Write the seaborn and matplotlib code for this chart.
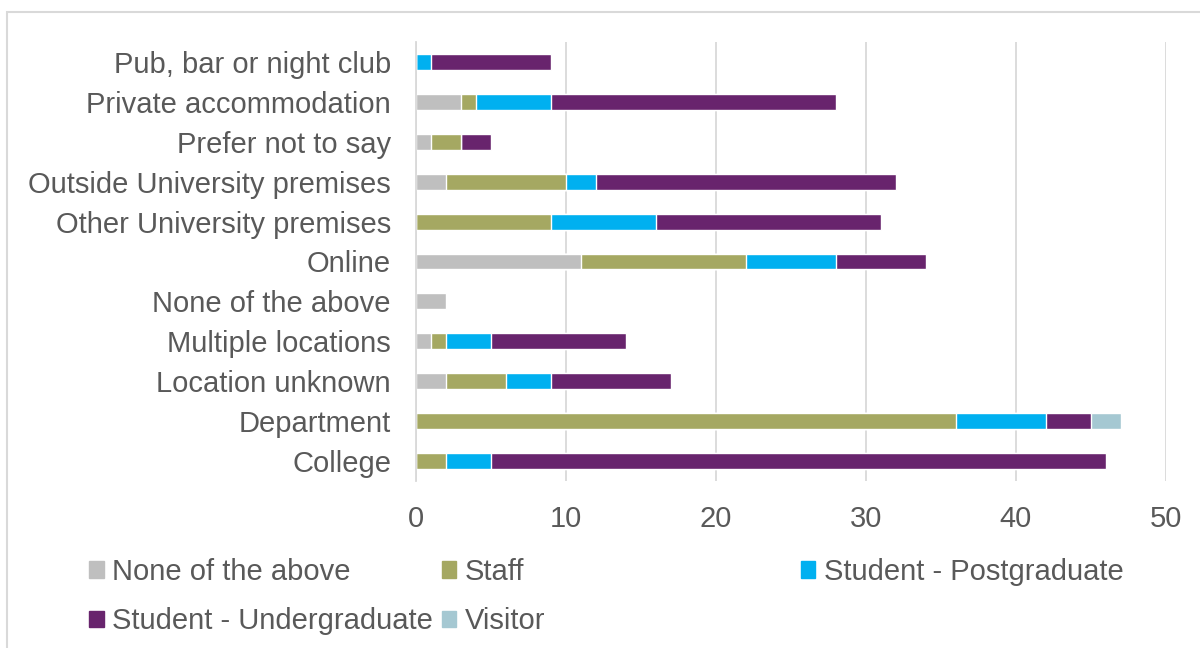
import numpy as np
import pandas as pd
import seaborn as sns
import matplotlib.pyplot as plt
from matplotlib.patches import Patch, Rectangle

# categories, top to bottom
locations = ["Pub, bar or night club", "Private accommodation", "Prefer not to say",
             "Outside University premises", "Other University premises", "Online",
             "None of the above", "Multiple locations", "Location unknown",
             "Department", "College"]

none_above = [0, 3, 1, 2, 0, 11, 2, 1, 2, 0, 0]
staff = [0, 1, 2, 8, 9, 11, 0, 1, 4, 36, 2]
postgrad = [1, 5, 0, 2, 7, 6, 0, 3, 3, 6, 3]
undergrad = [8, 19, 2, 20, 15, 6, 0, 9, 8, 3, 41]
visitor = [0, 0, 0, 0, 0, 0, 0, 0, 0, 2, 0]

series = ["None of the above", "Staff", "Student - Postgraduate",
          "Student - Undergraduate", "Visitor"]
colors = ["#BFBFBF", "#A5A862", "#00B0F0", "#68246D", "#A5C8D2"]

df = pd.DataFrame({"location": locations, series[0]: none_above, series[1]: staff,
                   series[2]: postgrad, series[3]: undergrad, series[4]: visitor})
cum = df[series].cumsum(axis=1)
cum["location"] = df["location"]

sns.set_style("white")
plt.rcParams["font.family"] = ["Liberation Sans", "DejaVu Sans"]
text_col = "#595959"
fs = 21

fig = plt.figure(figsize=(12, 6.48), dpi=100)
ax = fig.add_axes([416 / 1200, 1 - 481 / 648, 750 / 1200, 439 / 648])

# draw the cumulative totals from the last series back to the first
for name, col in reversed(list(zip(series, colors))):
    sns.barplot(data=cum, x=name, y="location", order=locations, color=col,
                width=0.4, saturation=1, ax=ax, orient="h")

ax.set_xlim(0, 50)
ax.set_ylim(10.5, -0.5)
ax.set_xticks(range(0, 51, 10))
ax.xaxis.grid(True, color="#D9D9D9", linewidth=1.3)
ax.set_axisbelow(True)
for s in ["top", "right", "bottom"]:
    ax.spines[s].set_visible(False)
ax.spines["left"].set_color("#D9D9D9")
ax.spines["left"].set_linewidth(1.3)
ax.set_xlabel("")
ax.set_ylabel("")
ax.tick_params(axis="both", length=0, labelsize=fs, labelcolor=text_col)
ax.tick_params(axis="x", pad=17)
ax.tick_params(axis="y", pad=18)

# legend in three columns, positioned like the original
handles = {n: Patch(color=c) for n, c in zip(series, colors)}
groups = [(0.062, [series[0], series[3]]), (0.356, [series[1], series[4]]),
          (0.655, [series[2]])]
for x0, names in groups:
    leg = fig.legend([handles[n] for n in names], names, loc="upper left",
                     bbox_to_anchor=(x0, 1 - 543 / 648), frameon=False,
                     fontsize=fs, handlelength=0.5, handleheight=0.5,
                     handletextpad=0.3, labelspacing=0.75, borderpad=0,
                     labelcolor=text_col)

fig.patches.append(Rectangle((7 / 1200, -0.1), 1.2, 1.1 - 12 / 648,
                             transform=fig.transFigure, fill=False,
                             edgecolor="#D9D9D9", linewidth=1.5))

fig.savefig("out.png", dpi=100, facecolor="white")
